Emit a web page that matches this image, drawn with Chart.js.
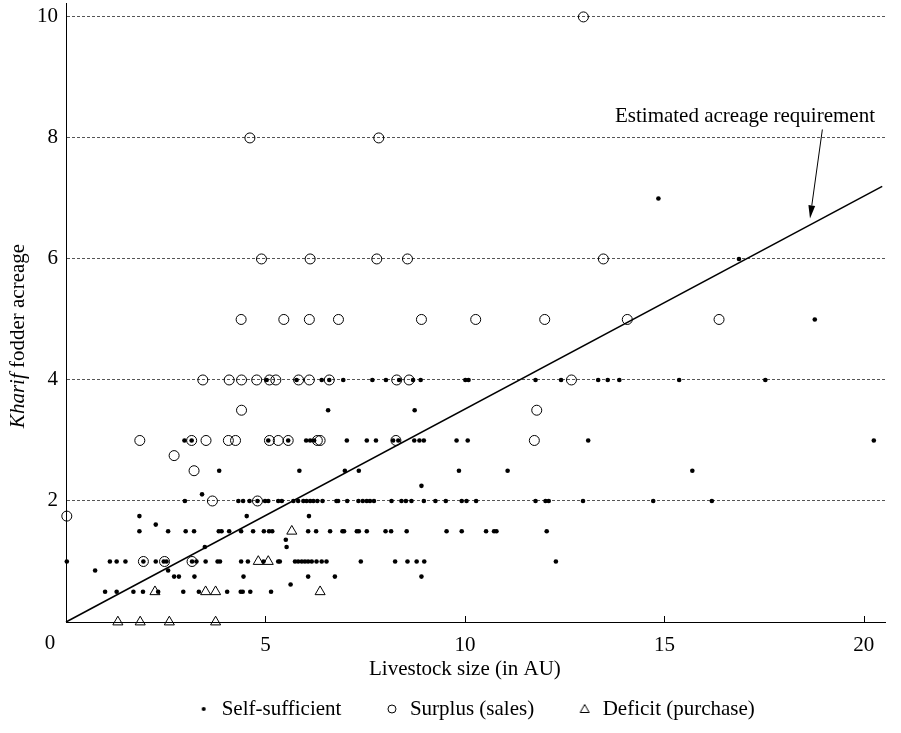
<!DOCTYPE html>
<html>
<head>
<meta charset="utf-8">
<script src="https://cdn.jsdelivr.net/npm/chart.js@4.4.1/dist/chart.umd.min.js"></script>
<style>
  html, body { margin: 0; padding: 0; background: #fff; }
  #c { display: block; }
</style>
</head>
<body>
<canvas id="c" width="901" height="733"></canvas>
<script>
// Livestock size (AU) vs. kharif fodder acreage, by household fodder status
const FONT = '"Liberation Serif", "Times New Roman", Times, serif';

const selfSufficient = [
  [0.98,0.5],[1.27,0.5],[1.69,0.5],[1.93,0.5],[2.31,0.5],[2.94,0.5],[3.33,0.5],[4.04,0.5],[4.38,0.5],[4.43,0.5],[4.62,0.5],[5.14,0.5],
  [5.63,0.62],
  [2.71,0.75],[2.83,0.75],[3.22,0.75],[4.45,0.75],[6.07,0.75],[6.74,0.75],[8.91,0.75],
  [0.73,0.85],[2.56,0.85],
  [0.02,1],[1.10,1],[1.27,1],[1.49,1],[1.94,1],[2.25,1],[2.45,1],[2.52,1],[3.16,1],[3.27,1],[3.50,1],[3.80,1],[3.86,1],
  [4.39,1],[4.56,1],[4.95,1],[5.32,1],[5.36,1],[5.74,1],[5.82,1],[5.91,1],[5.99,1],[6.07,1],[6.16,1],[6.28,1],[6.41,1],
  [6.53,1],[7.39,1],[8.25,1],[8.56,1],[8.79,1],[8.98,1],[12.28,1],
  [3.48,1.24],[5.53,1.24],[5.51,1.36],
  [1.84,1.5],[2.56,1.5],[3.00,1.5],[3.21,1.5],[3.83,1.5],[3.90,1.5],[4.09,1.5],[4.39,1.5],[4.69,1.5],[4.96,1.5],[5.09,1.5],
  [5.17,1.5],[6.07,1.5],[6.27,1.5],[6.62,1.5],[6.93,1.5],[6.97,1.5],[7.29,1.5],[7.34,1.5],[7.54,1.5],[8.01,1.5],[8.15,1.5],
  [8.54,1.5],[9.54,1.5],[9.92,1.5],[10.53,1.5],[10.73,1.5],[10.79,1.5],[12.05,1.5],
  [2.25,1.61],
  [1.84,1.75],[4.53,1.75],[6.09,1.75],
  [2.98,2],[4.32,2],[4.44,2],[4.60,2],[4.80,2],[4.99,2],[5.07,2],[5.32,2],[5.41,2],[5.70,2],[5.82,2],[5.95,2],[6.03,2],
  [6.12,2],[6.20,2],[6.30,2],[6.43,2],[6.78,2],[6.82,2],[7.05,2],[7.33,2],[7.44,2],[7.54,2],[7.62,2],[7.72,2],[8.16,2],
  [8.41,2],[8.52,2],[8.66,2],[8.97,2],[9.26,2],[9.52,2],[9.92,2],[10.04,2],[10.28,2],[11.77,2],[12.02,2],[12.10,2],
  [12.96,2],[14.72,2],[16.19,2],
  [3.41,2.11],[8.91,2.25],
  [3.84,2.5],[5.85,2.5],[6.99,2.5],[7.34,2.5],[9.85,2.5],[11.07,2.5],[15.70,2.5],
  [2.97,3],[3.15,3],[5.07,3],[5.57,3],[6.02,3],[6.12,3],[6.22,3],[7.04,3],[7.54,3],[7.77,3],[8.20,3],[8.33,3],[8.73,3],
  [8.86,3],[8.97,3],[9.79,3],[10.07,3],[13.09,3],[20.25,3],
  [6.57,3.5],[8.74,3.5],
  [5.03,4],[5.78,4],[6.41,4],[6.60,4],[6.95,4],[7.68,4],[8.02,4],[8.35,4],[8.70,4],[8.89,4],[10.01,4],[10.09,4],
  [11.77,4],[12.41,4],[13.34,4],[13.58,4],[13.87,4],[15.37,4],[17.53,4],
  [18.77,5],[16.87,6],[14.85,7]
];

const surplus = [
  [0.02,1.75],[1.94,1],[2.47,1],[3.16,1],[3.67,2],[4.80,2],
  [3.21,2.5],[2.71,2.75],
  [1.85,3],[3.15,3],[3.51,3],[4.07,3],[4.25,3],[5.10,3],[5.32,3],[5.57,3],[6.30,3],[6.37,3],[8.27,3],[11.74,3],
  [4.40,3.5],[11.80,3.5],
  [3.43,4],[4.09,4],[4.40,4],[4.78,4],[5.10,4],[5.26,4],[5.83,4],[6.10,4],[6.60,4],[8.29,4],[8.60,4],[12.67,4],
  [4.39,5],[5.46,5],[6.10,5],[6.83,5],[8.91,5],[10.27,5],[12.00,5],[14.07,5],[16.37,5],
  [4.90,6],[6.12,6],[7.79,6],[8.56,6],[13.47,6],
  [4.61,8],[7.84,8],[12.97,10]
];

const deficit = [
  [1.30,0],[1.86,0],[2.59,0],[3.75,0],
  [2.23,0.5],[3.50,0.5],[3.75,0.5],[6.37,0.5],
  [4.82,1],[5.07,1],[5.66,1.5]
];

// Estimated acreage requirement line (end points)
const requirementX = [0, 20.46];
const requirementY = [0, 7.2];

const xTicks = [0, 5, 10, 15, 20];
const yTicks = [0, 2, 4, 6, 8, 10];
const seriesNames = ['Self-sufficient', 'Surplus (sales)', 'Deficit (purchase)'];

const toPoints = arr => arr.map(([x, y]) => ({ x, y }));

// small legend glyphs
function makeIcon(kind) {
  const c = document.createElement('canvas');
  c.width = 12; c.height = 12;
  const g = c.getContext('2d');
  g.strokeStyle = '#000'; g.fillStyle = '#000'; g.lineWidth = 1;
  if (kind === 'dot') {
    g.beginPath(); g.arc(6, 6, 2, 0, Math.PI * 2); g.fill();
  } else if (kind === 'ring') {
    g.beginPath(); g.arc(6, 6, 4, 0, Math.PI * 2); g.stroke();
  } else {
    g.beginPath(); g.moveTo(6, 1.5); g.lineTo(10.5, 9.5); g.lineTo(1.5, 9.5); g.closePath(); g.stroke();
  }
  return c;
}
const legendIcons = [makeIcon('dot'), makeIcon('ring'), makeIcon('tri')];

const overlayPlugin = {
  id: 'fodderOverlay',
  afterDraw(chart) {
    const { ctx, chartArea } = chart;
    const xs = chart.scales.x, ys = chart.scales.y;
    ctx.save();
    ctx.fillStyle = '#000';
    ctx.strokeStyle = '#000';

    // inward tick marks on the horizontal axis
    ctx.lineWidth = 1;
    xTicks.forEach(v => {
      if (v === 0) return;
      const px = Math.round(xs.getPixelForValue(v)) + 0.5;
      ctx.beginPath();
      ctx.moveTo(px, chartArea.bottom);
      ctx.lineTo(px, chartArea.bottom - 6);
      ctx.stroke();
    });

    ctx.font = '21px ' + FONT;
    ctx.textAlign = 'center';
    ctx.textBaseline = 'middle';
    // shared origin label
    ctx.fillText('0', xs.getPixelForValue(0) - 16, chartArea.bottom + 21);

    // horizontal axis title
    ctx.fillText('Livestock size (in AU)', xs.getPixelForValue(10), chartArea.bottom + 47);

    // vertical axis title, "Kharif" in italics
    const italic = 'italic 21px ' + FONT, roman = '21px ' + FONT;
    ctx.font = italic;
    const w1 = ctx.measureText('Kharif').width;
    ctx.font = roman;
    const w2 = ctx.measureText(' fodder acreage').width;
    ctx.save();
    ctx.translate(18, 336);
    ctx.rotate(-Math.PI / 2);
    ctx.textAlign = 'left';
    const start = -(w1 + w2) / 2;
    ctx.font = italic;
    ctx.fillText('Kharif', start, 0);
    ctx.font = roman;
    ctx.fillText(' fodder acreage', start + w1, 0);
    ctx.restore();

    // annotation for the requirement line
    ctx.font = '21px ' + FONT;
    ctx.textAlign = 'center';
    ctx.fillText('Estimated acreage requirement', xs.getPixelForValue(17.02), ys.getPixelForValue(8.35));
    const ax0 = xs.getPixelForValue(18.96), ay0 = ys.getPixelForValue(8.14);
    const ax1 = xs.getPixelForValue(18.65), ay1 = ys.getPixelForValue(6.67);
    const ang = Math.atan2(ay1 - ay0, ax1 - ax0);
    const headLen = 13, headHalf = 3.4;
    const bx = ax1 - Math.cos(ang) * headLen, by = ay1 - Math.sin(ang) * headLen;
    ctx.lineWidth = 1;
    ctx.beginPath(); ctx.moveTo(ax0, ay0); ctx.lineTo(bx, by); ctx.stroke();
    ctx.beginPath();
    ctx.moveTo(ax1, ay1);
    ctx.lineTo(bx + Math.sin(ang) * headHalf, by - Math.cos(ang) * headHalf);
    ctx.lineTo(bx - Math.sin(ang) * headHalf, by + Math.cos(ang) * headHalf);
    ctx.closePath();
    ctx.fill();
    ctx.restore();
  }
};

new Chart(document.getElementById('c'), {
  type: 'scatter',
  data: {
    datasets: [
      {
        label: seriesNames[0],
        data: toPoints(selfSufficient),
        pointStyle: 'circle', pointRadius: 2.3,
        backgroundColor: '#000', borderColor: '#000', borderWidth: 0,
        clip: false, order: 3
      },
      {
        label: seriesNames[1],
        data: toPoints(surplus),
        pointStyle: 'circle', pointRadius: 5,
        backgroundColor: 'rgba(0,0,0,0)', borderColor: '#000', borderWidth: 1,
        clip: false, order: 2
      },
      {
        label: seriesNames[2],
        data: toPoints(deficit),
        pointStyle: 'triangle', pointRadius: 5.8,
        backgroundColor: 'rgba(0,0,0,0)', borderColor: '#000', borderWidth: 1,
        clip: false, order: 1
      },
      {
        type: 'line',
        label: 'requirement',
        data: requirementX.map((x, i) => ({ x, y: requirementY[i] })),
        borderColor: '#000', borderWidth: 1.5, pointRadius: 0,
        fill: false, clip: false, order: 0
      }
    ]
  },
  options: {
    responsive: false,
    animation: false,
    events: [],
    layout: { autoPadding: false, padding: { left: 10, right: 16, top: 3, bottom: 3.5 } },
    scales: {
      x: {
        type: 'linear', min: 0, max: 20.53,
        afterBuildTicks: axis => { axis.ticks = xTicks.map(v => ({ value: v })); },
        afterFit: axis => { axis.height = 33.5; axis.paddingLeft = 0; axis.paddingRight = 0; },
        grid: { display: false },
        border: { display: true, color: '#000', width: 1 },
        ticks: {
          padding: 3, color: '#000', font: { family: FONT, size: 21 },
          maxRotation: 0, autoSkip: false,
          callback: v => (v === 0 ? '' : String(v))
        },
        title: { display: false }
      },
      y: {
        type: 'linear', min: 0, max: 10.23,
        afterBuildTicks: axis => { axis.ticks = yTicks.map(v => ({ value: v })); },
        afterFit: axis => { axis.width = 56; axis.paddingTop = 0; axis.paddingBottom = 0; },
        grid: {
          drawTicks: false, lineWidth: 1,
          color: c => (c.tick && c.tick.value === 0 ? 'rgba(0,0,0,0)' : '#555')
        },
        border: { display: true, color: '#000', width: 1, dash: [3, 2] },
        ticks: {
          padding: 8, color: '#000', font: { family: FONT, size: 21 },
          autoSkip: false,
          callback: v => (v === 0 ? '' : String(v))
        },
        title: { display: false }
      }
    },
    plugins: {
      tooltip: { enabled: false },
      legend: {
        display: true,
        position: 'bottom',
        fullSize: false,
        labels: {
          usePointStyle: true,
          boxWidth: 15,
          padding: 43,
          color: '#000',
          font: { family: FONT, size: 21 },
          filter: item => item.datasetIndex < 3,
          generateLabels: chart => chart.data.datasets.slice(0, 3).map((ds, i) => ({
            text: ds.label,
            pointStyle: legendIcons[i],
            fillStyle: 'rgba(0,0,0,0)',
            strokeStyle: 'rgba(0,0,0,0)',
            lineWidth: 0,
            hidden: false,
            datasetIndex: i,
            fontColor: '#000'
          }))
        }
      }
    }
  },
  plugins: [overlayPlugin]
});
</script>
</body>
</html>
